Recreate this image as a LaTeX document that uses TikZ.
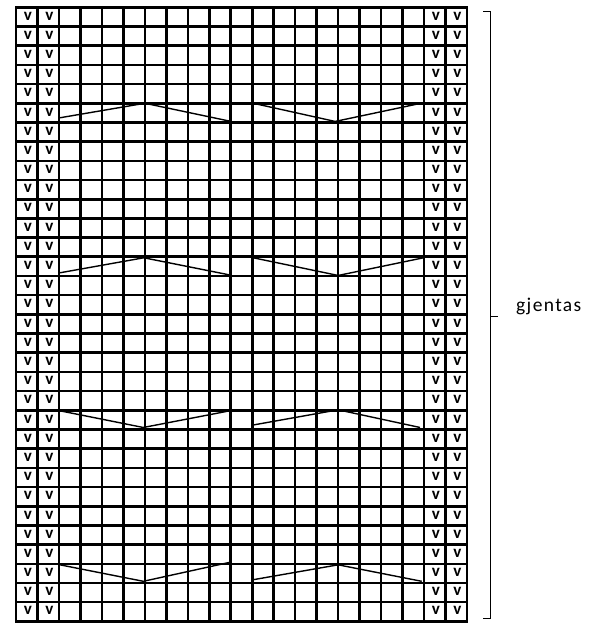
\documentclass[tikz,border=0pt]{standalone}
\usepackage{fontspec}
\setmainfont{Carlito}
\begin{document}
\begin{tikzpicture}[x=1pt,y=-1pt,
  gridline/.style={line width=2.6pt,line cap=rect},
  zig/.style={line width=1.4pt,line join=miter},
  brace/.style={line width=1.4pt},
  vmark/.style={inner sep=0pt,font=\bfseries\fontsize{17}{17}\selectfont},
  lbl/.style={inner sep=0pt,anchor=base west,font=\addfontfeature{LetterSpace=7}\fontsize{19.5}{19.5}\selectfont}]
\useasboundingbox (0,0) rectangle (598,625);
\def\xo{16}\def\yo{7.3}\def\cw{21.476}\def\rh{19.19}
% grid
\foreach \i in {0,...,21}
  \draw[gridline] ({\xo+\i*\cw},\yo) -- ({\xo+\i*\cw},{\yo+32*\rh});
\foreach \j in {0,...,32}
  \draw[gridline] (\xo,{\yo+\j*\rh}) -- ({\xo+21*\cw},{\yo+\j*\rh});
% v marks
\foreach \j in {0,...,31}
  \foreach \i in {0,1,19,20}
    \node[vmark] (v-\i-\j) at ({\xo+(\i+0.55)*\cw},{\yo+(\j+0.45)*\rh}) {v};
% Z1 rows 5-6
\coordinate (a1) at ({\xo+2*\cw},{\yo+6*\rh-4.5});
\coordinate (b1) at ({\xo+6*\cw},{\yo+5*\rh});
\coordinate (c1) at ({\xo+10*\cw-2},{\yo+6*\rh-1.5});
\coordinate (d1) at ({\xo+11*\cw+1},{\yo+5*\rh});
\coordinate (e1) at ({\xo+15*\cw-3},{\yo+6*\rh-1});
\coordinate (f1) at ({\xo+19*\cw-3},{\yo+5*\rh});
\draw[zig] (a1) -- (b1) -- (c1);
\draw[zig] (d1) -- (e1) -- (f1);
% Z2 rows 13-14
\coordinate (a2) at ({\xo+2*\cw},{\yo+14*\rh-3});
\coordinate (b2) at ({\xo+6*\cw-1},{\yo+13*\rh+1});
\coordinate (c2) at ({\xo+10*\cw-1},{\yo+14*\rh-1});
\coordinate (d2) at ({\xo+11*\cw+1},{\yo+13*\rh+1});
\coordinate (e2) at ({\xo+15*\cw},{\yo+14*\rh-0.5});
\coordinate (f2) at ({\xo+19*\cw-0.5},{\yo+13*\rh+1});
\draw[zig] (a2) -- (b2) -- (c2);
\draw[zig] (d2) -- (e2) -- (f2);
% Z3 rows 21-22
\coordinate (a3) at ({\xo+2*\cw+1},{\yo+21*\rh+0.5});
\coordinate (b3) at ({\xo+6*\cw-1.5},{\yo+22*\rh-2});
\coordinate (c3) at ({\xo+10*\cw-1},{\yo+21*\rh+0.5});
\coordinate (d3) at ({\xo+11*\cw+1},{\yo+22*\rh-4.5});
\coordinate (e3) at ({\xo+15*\cw},{\yo+21*\rh-0.5});
\coordinate (f3) at ({\xo+19*\cw-4},{\yo+22*\rh-2});
\draw[zig] (a3) -- (b3) -- (c3);
\draw[zig] (d3) -- (e3) -- (f3);
% Z4 rows 29-30
\coordinate (a4) at ({\xo+2*\cw+1},{\yo+29*\rh+1});
\coordinate (b4) at ({\xo+6*\cw-1.5},{\yo+30*\rh-1.7});
\coordinate (c4) at ({\xo+10*\cw-1},{\yo+29*\rh-1.5});
\coordinate (d4) at ({\xo+11*\cw+1},{\yo+30*\rh-3.3});
\coordinate (e4) at ({\xo+15*\cw},{\yo+29*\rh+1});
\coordinate (f4) at ({\xo+19*\cw-2.3},{\yo+30*\rh-1.7});
\draw[zig] (a4) -- (b4) -- (c4);
\draw[zig] (d4) -- (e4) -- (f4);
% bracket
\coordinate (bt) at (483,11.7);
\coordinate (bb) at (483,618.3);
\coordinate (bm) at (490.7,316.5);
\coordinate (bmt) at (498.3,316.5);
\draw[brace] (bt) -- (490.7,11.7) -- (490.7,618.3) -- (bb);
\draw[brace] (bm) -- (bmt);
\node[lbl] (label) at (516,311.7) {gjentas};
\end{tikzpicture}
\end{document}
